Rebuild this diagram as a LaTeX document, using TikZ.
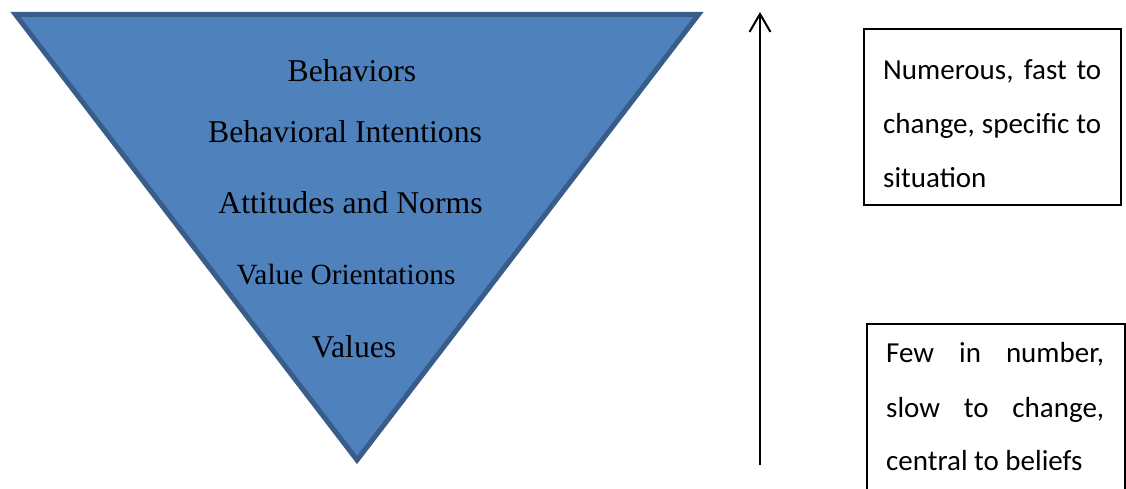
\documentclass[tikz,border=0pt]{standalone}
\usepackage{fontspec}
\setmainfont{Liberation Serif}
\newfontfamily\boxfont{Carlito}
\usetikzlibrary{arrows.meta}
\definecolor{pyrfill}{HTML}{4F81BD}
\definecolor{pyredge}{HTML}{385D8A}
% one justified line of box text
\newcommand{\jline}[1]{\makebox[218pt][s]{#1}}
\begin{document}
\begin{tikzpicture}[x=1pt,y=-1pt,
  level/.style={font=\fontsize{31.7}{38}\selectfont, anchor=base, inner sep=0pt},
  note/.style={draw=black, line width=2pt, inner sep=0pt, anchor=north west},
  notetext/.style={font=\boxfont\fontsize{29}{35}\selectfont, anchor=base west, inner sep=0pt},
  trend/.style={line width=2pt, -{Straight Barb[length=18pt,width=21pt,line width=2pt]}}]
\clip (0,0) rectangle (1126,489);

% inverted pyramid
\coordinate (tl) at (15.5,14.5);
\coordinate (tr) at (698.5,14.5);
\coordinate (bt) at (357,460);
\filldraw[fill=pyrfill, draw=pyredge, line width=5pt, line join=miter]
  (tl) -- (tr) -- (bt) -- cycle;

\node[level] (behaviors)  at (352,82)  {Behaviors};
\node[level] (intentions) at (345,143) {Behavioral Intentions};
\node[level] (attitudes)  at (350.5,213) {Attitudes and Norms};
\node[level, font=\fontsize{29.3}{35}\selectfont] (orient) at (346,284) {Value Orientations};
\node[level] (values)     at (354,357) {Values};

% direction arrow
\coordinate (tail) at (760,465);
\coordinate (head) at (760,12);
\draw[trend] (tail) -- (head);

% upper note
\node[note, minimum width=257pt, minimum height=176pt] (fast) at (863,28) {};
\node[notetext] (fast1) at (883,80)  {\jline{Numerous, fast to}};
\node[notetext] (fast2) at (883,134) {\jline{change, specific to}};
\node[notetext] (fast3) at (883,188) {situation};

% lower note
\node[note, minimum width=258pt, minimum height=200pt] (slow) at (865.5,323) {};
\node[notetext] (slow1) at (886,362) {\jline{Few in number,}};
\node[notetext] (slow2) at (886,417) {\jline{slow to change,}};
\node[notetext] (slow3) at (886,470) {central to beliefs};
\end{tikzpicture}
\end{document}
